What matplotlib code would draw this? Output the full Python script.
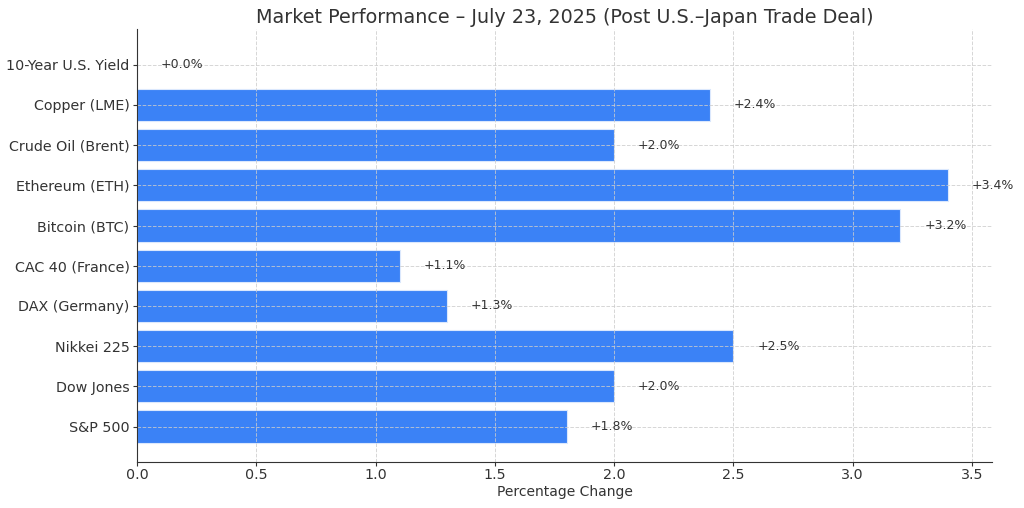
import matplotlib
matplotlib.use("Agg")
import matplotlib.pyplot as plt

categories = ["S&P 500", "Dow Jones", "Nikkei 225", "DAX (Germany)", "CAC 40 (France)",
              "Bitcoin (BTC)", "Ethereum (ETH)", "Crude Oil (Brent)", "Copper (LME)",
              "10-Year U.S. Yield"]
values = [1.8, 2.0, 2.5, 1.3, 1.1, 3.2, 3.4, 2.0, 2.4, 0.0]

txt = "#333333"
fig, ax = plt.subplots(figsize=(10.24, 5.08), dpi=100)
fig.subplots_adjust(left=0.134, right=0.969, top=0.943, bottom=0.09)
bars = ax.barh(categories, values, color="#3b82f6", edgecolor="#dbe8fd", linewidth=0.8, height=0.8, zorder=1)
ax.grid(True, linestyle="--", color="#cccccc", linewidth=0.7, alpha=0.8, zorder=3)
ax.set_axisbelow(False)
for v, c in zip(values, categories):
    ax.text(v + 0.1, c, f"+{v:.1f}%", va="center", ha="left", fontsize=9, color=txt, zorder=4)
ax.set_title("Market Performance – July 23, 2025 (Post U.S.–Japan Trade Deal)", fontsize=13.8, color=txt, pad=4.5)
ax.set_xlabel("Percentage Change", fontsize=10, color=txt, labelpad=2)
ax.tick_params(axis="both", labelsize=10.3, colors=txt, length=3, pad=2.5)
ax.tick_params(axis="x", pad=1)
for s in ["top", "right"]:
    ax.spines[s].set_visible(False)
for s in ["left", "bottom"]:
    ax.spines[s].set_color(txt)
    ax.spines[s].set_zorder(5)
ax.set_xlim(0, 3.585)
fig.savefig("out.png", dpi=100)
